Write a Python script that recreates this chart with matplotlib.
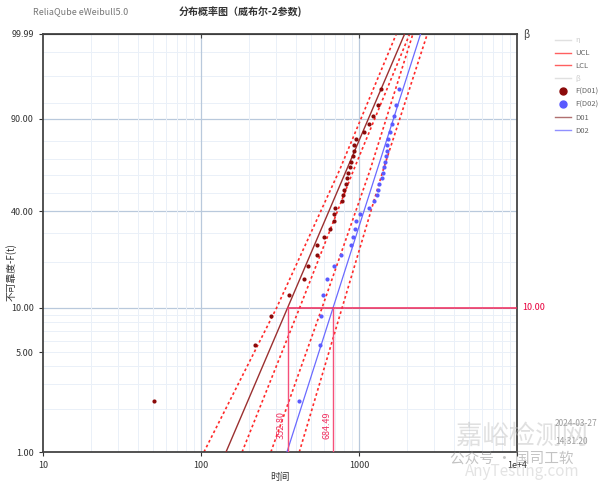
import numpy as np
import matplotlib.pyplot as plt
from matplotlib.lines import Line2D

plt.rcParams['font.family'] = ['Noto Sans CJK SC', 'DejaVu Sans']

# 中位秩 (%)，两组各 30 个样本
rank_pct = [2.30, 5.59, 8.88, 12.17, 15.46, 18.75, 22.04, 25.33, 28.62, 31.91,
            35.20, 38.49, 41.78, 45.07, 48.36, 51.64, 54.93, 58.22, 61.51, 64.80,
            68.09, 71.38, 74.67, 77.96, 81.25, 84.54, 87.83, 91.12, 94.41, 97.70]

# 失效时间
d01_time = [50.3, 220, 278, 360, 447, 475, 540, 545, 599, 654,
            692, 699, 703, 778, 794, 801, 825, 841, 849, 874,
            892, 918, 927, 936, 954, 1072, 1160, 1231, 1316, 1383]
d02_time = [415, 570, 576, 593, 629, 692, 771, 892, 918, 940,
            964, 1022, 1149, 1241, 1305, 1316, 1344, 1400, 1412, 1437,
            1466, 1479, 1495, 1510, 1524, 1570, 1616, 1663, 1713, 1783]

# 拟合线 (F%, 时间)
fit_F = [1, 10, 99.99]
d01_fit_t = [144, 352.8, 1944]
d02_fit_t = [350, 684.49, 2453]

# 置信界
cb_F = [1, 10, 63.2, 99.99]
d01_lcl_t = [104.4, 300.6, 753, 1722]
d01_ucl_t = [182, 420.5, 924, 2092]
d02_lcl_t = [277, 583, 1175, 2193]
d02_ucl_t = [419, 781, 1421, 2706]

ref_F = 10.0
ref_t = [352.80, 684.49]

y_ticks = [1, 5, 10, 40, 90, 99.99]
y_major_grid = [10, 40, 90]
y_minor_grid = [2, 3, 4, 5, 6, 7, 8, 9, 20, 30, 50, 60, 70, 80, 95, 99, 99.9]


def fwd(p):
    p = np.clip(np.asarray(p, dtype=float), 1e-6, 99.99999)
    return np.log(-np.log(1 - p / 100.0))


def inv(w):
    return 100.0 * (1 - np.exp(-np.exp(w)))


fig = plt.figure(figsize=(6, 4.82), dpi=100)
ax = fig.add_axes([43 / 600, 1 - 452 / 482, 474 / 600, 418 / 482])
ax.set_xscale('log')
ax.set_yscale('function', functions=(fwd, inv))
ax.set_xlim(10, 1e4)
ax.set_ylim(1, 99.99)

# grid
for v in y_minor_grid:
    ax.axhline(v, color='#EAF0F8', lw=0.7, zorder=0)
for v in y_major_grid:
    ax.axhline(v, color='#B9C9DC', lw=0.9, zorder=0)
for dec in [10, 100, 1000]:
    for m in range(2, 10):
        ax.axvline(dec * m, color='#EAF0F8', lw=0.7, zorder=0)
for v in [100, 1000]:
    ax.axvline(v, color='#B9C9DC', lw=0.9, zorder=0)

# confidence bounds
dot = (0, (1.6, 1.6))
for t in [d01_lcl_t, d01_ucl_t, d02_lcl_t, d02_ucl_t]:
    ax.plot(t, cb_F, color='#FF2A2A', lw=1.2, ls=dot, zorder=2)

# fit lines
ax.plot(d01_fit_t, fit_F, color='#9B3030', lw=1.0, zorder=3)
ax.plot(d02_fit_t, fit_F, color='#6A6AFF', lw=0.9, zorder=3)

# points
ax.scatter(d01_time, rank_pct, s=9, color='#8B0A0A', zorder=4, linewidths=0)
ax.scatter(d02_time, rank_pct, s=9, color='#5A5AFF', zorder=4, linewidths=0)

# 10% reference lines
ax.plot([ref_t[0], 1e4], [ref_F, ref_F], color='#F0285A', lw=1.1, zorder=3)
for t in ref_t:
    ax.plot([t, t], [1, ref_F], color='#F5507A', lw=1.0, zorder=3)
    ax.text(t / 1.02, 1.55, f'{t:.2f}', rotation=90, ha='right', va='center',
            fontsize=6.5, color='#F03060')
ax.text(1.012, ref_F, f'{ref_F:.2f}', transform=ax.get_yaxis_transform(),
        ha='left', va='center', fontsize=6.5, color='#E8003D')

# axes styling
ax.set_yticks(y_ticks, [f'{v:.2f}' for v in y_ticks])
ax.yaxis.set_minor_locator(plt.NullLocator())
ax.set_xticks([10, 100, 1000, 10000], ['10', '100', '1000', '1e+4'])
ax.xaxis.set_minor_locator(plt.NullLocator())
ax.tick_params(labelsize=6.5, colors='#333333', length=3, width=0.8)
for s in ax.spines.values():
    s.set_color('#444444')
    s.set_linewidth(1.3)
top = ax.secondary_xaxis('top')
top.set_xticks([100, 1000], ['', ''])
top.tick_params(direction='in', length=3, colors='#444444')
top.xaxis.set_minor_locator(plt.NullLocator())

ax.set_xlabel('时间', fontsize=7, color='#333333')
ax.xaxis.set_label_coords(0.5, -0.048)
ax.set_ylabel('不可靠度-F(t)', fontsize=7, color='#333333')
ax.yaxis.set_label_coords(-0.055, 0.43)
ax.text(1.012, 1.0, 'β', transform=ax.transAxes, ha='left', va='center',
        fontsize=7, color='#444444')

fig.text(33 / 600, 1 - 12 / 482, 'ReliaQube eWeibull5.0', fontsize=6.5,
         color='#777777', va='center')
fig.text(240 / 600, 1 - 12 / 482, '分布概率图（威布尔-2参数)', fontsize=7.2,
         fontweight='bold', color='#333333', ha='center', va='center')

# legend
handles = [
    Line2D([], [], color='#E0E0E0', lw=1),
    Line2D([], [], color='#FF6060', lw=1),
    Line2D([], [], color='#FF6060', lw=1),
    Line2D([], [], color='#E0E0E0', lw=1),
    Line2D([], [], color='#8B0A0A', marker='o', ls='none', ms=5),
    Line2D([], [], color='#5A5AFF', marker='o', ls='none', ms=5),
    Line2D([], [], color='#B07070', lw=1),
    Line2D([], [], color='#9090FF', lw=1),
]
labels = ['η', 'UCL', 'LCL', 'β', 'F(D01)', 'F(D02)', 'D01', 'D02']
leg = fig.legend(handles, labels, loc='upper left',
                 bbox_to_anchor=(550 / 600, 1 - 31 / 482), frameon=False,
                 fontsize=5.5, labelspacing=0.64, handlelength=2.1,
                 handletextpad=0.5, borderaxespad=0.3)
for txt, c in zip(leg.get_texts(), ['#CCCCCC', '#666666', '#666666', '#CCCCCC',
                                    '#666666', '#666666', '#666666', '#666666']):
    txt.set_color(c)

# time stamp
fig.text(597 / 600, 1 - 424 / 482, '2024-03-27', fontsize=6, color='#999999',
         ha='right', va='center')
fig.text(571 / 600, 1 - 442 / 482, '14:31:20', fontsize=6, color='#999999',
         ha='center', va='center')

# watermark
fig.text(522 / 600, 1 - 436 / 482, '嘉峪检测网', fontsize=19, color='#BBBBBB',
         alpha=0.45, ha='center', va='center')
fig.text(512 / 600, 1 - 459 / 482, '公众号 · 国司工软', fontsize=10.5,
         color='#888888', alpha=0.5, ha='center', va='center')
fig.text(522 / 600, 1 - 471 / 482, 'AnyTesting.com', fontsize=11,
         color='#BBBBBB', alpha=0.4, ha='center', va='center', style='italic')

fig.savefig('out.png', dpi=100)
